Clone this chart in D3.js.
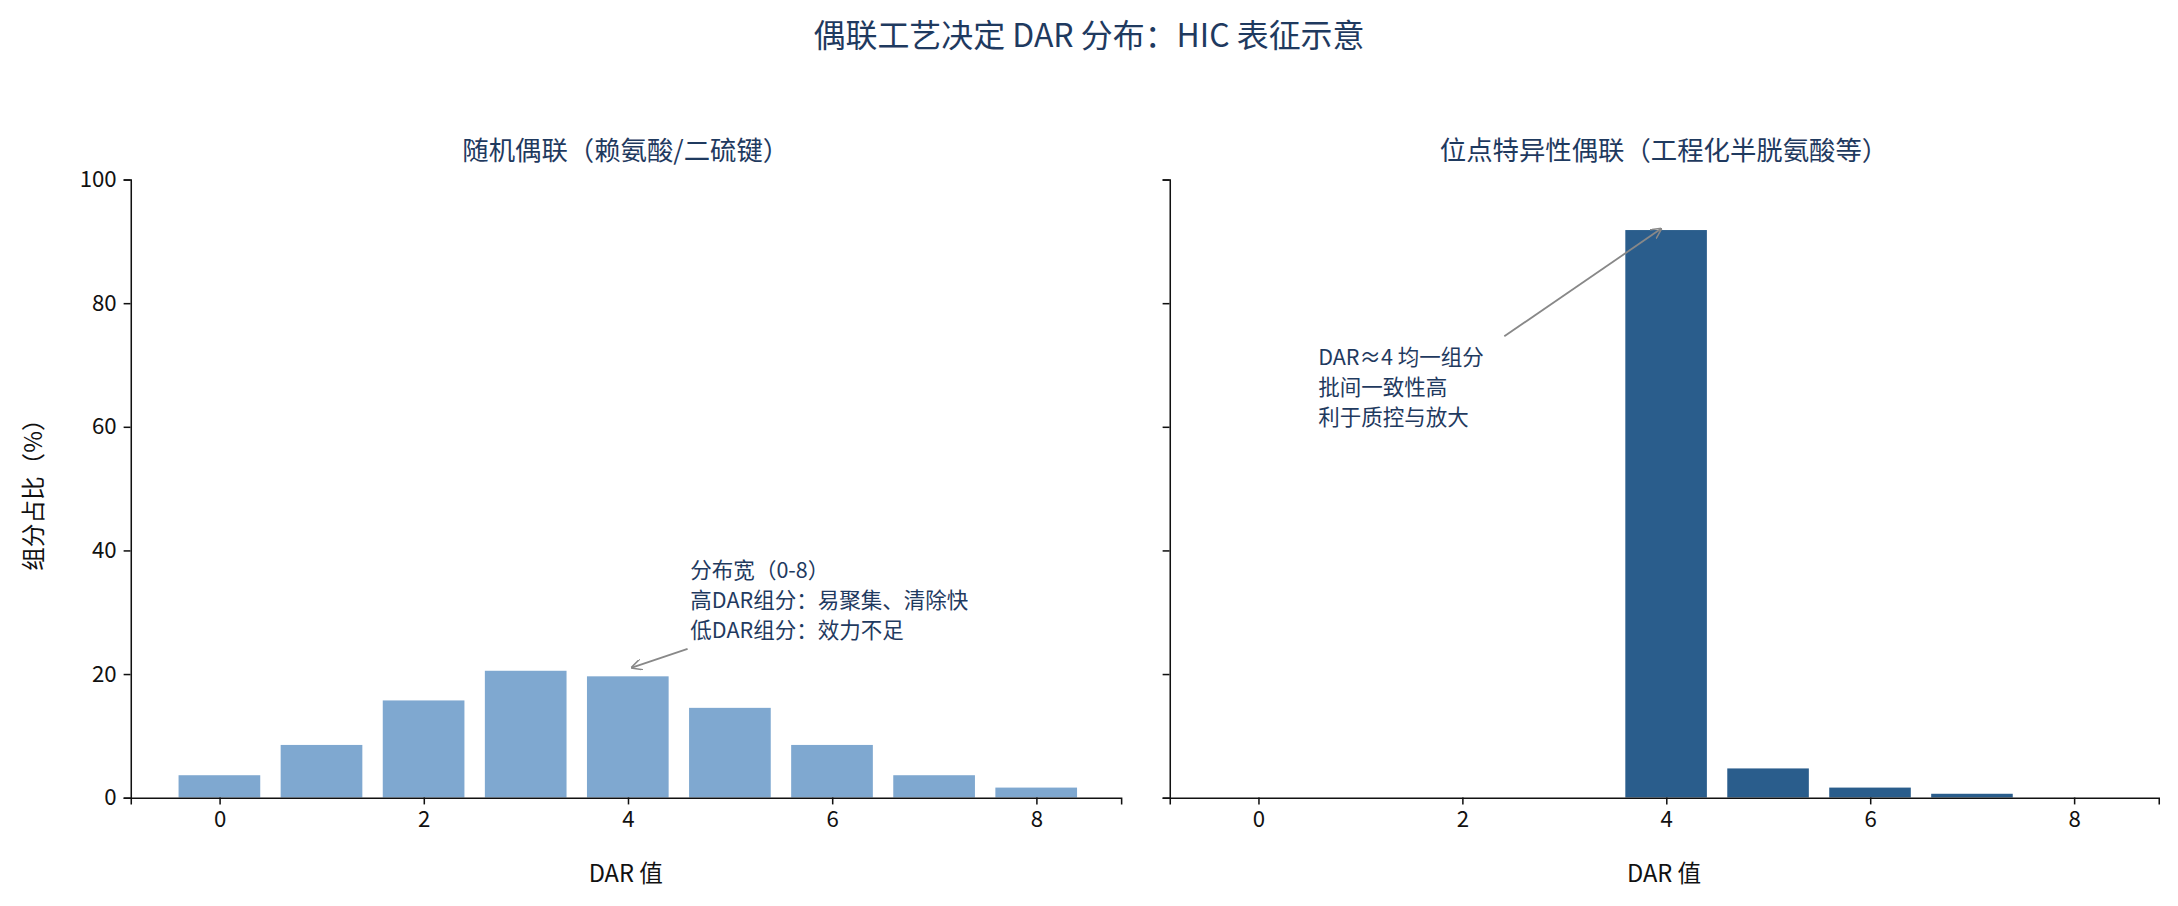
<!DOCTYPE html>
<html><head><meta charset="utf-8">
<script src="https://cdn.jsdelivr.net/npm/d3@7"></script>
<style>body{margin:0;background:#fff;font-family:"Noto Sans CJK SC","Noto Sans",sans-serif;}</style>
</head><body><svg id="c" width="2178" height="906" viewBox="0 0 1568 652"></svg>
<script>
const dar = [0, 1, 2, 3, 4, 5, 6, 7, 8];
const randomPct = [3.6, 8.5, 15.7, 20.5, 19.6, 14.5, 8.5, 3.6, 1.6];
const sitePct = [0, 0, 0, 0, 91.8, 4.7, 1.6, 0.6, 0];
const xTicks = [0, 2, 4, 6, 8];
const yTicks = [0, 20, 40, 60, 80, 100];

const svg = d3.select('#c');
const titleColor = '#1f3a5f';
const font = '"Noto Sans CJK SC","Noto Sans",sans-serif';

svg.append('text').attr('x', 784).attr('y', 34).attr('text-anchor', 'middle')
    .attr('font-size', 23).attr('fill', titleColor).text('偶联工艺决定 DAR 分布：HIC 表征示意');

const y = d3.scaleLinear().domain([0, 100]).range([574, 129]);

function panel(left, right, values, color, title, showY, note) {
    const x = d3.scaleLinear().domain([-0.87, 8.83]).range([left, right]);
    const g = svg.append('g');
    g.selectAll('rect').data(dar).join('rect')
        .attr('x', d => x(d - 0.4)).attr('width', x(0.8) - x(0))
        .attr('y', (d, i) => y(values[i])).attr('height', (d, i) => y(0) - y(values[i]))
        .attr('fill', color);
    const ax = g.append('g').attr('transform', 'translate(0,574)')
        .call(d3.axisBottom(x).tickValues(xTicks).tickSize(5).tickPadding(5));
    const ay = g.append('g').attr('transform', `translate(${left},0)`)
        .call(d3.axisLeft(y).tickValues(yTicks).tickSize(5).tickPadding(5).tickFormat(showY ? d3.format('d') : ''));
    [ax, ay].forEach(a => {
        a.selectAll('text').attr('font-size', 16).attr('font-family', font).attr('fill', '#111');
        a.selectAll('line,path').attr('stroke', '#111').attr('stroke-width', 1.1);
    });
    g.append('text').attr('x', (left + right) / 2).attr('y', 115).attr('text-anchor', 'middle')
        .attr('font-size', 19).attr('fill', titleColor).text(title);
    g.append('text').attr('x', (left + right) / 2).attr('y', 635).attr('text-anchor', 'middle')
        .attr('font-size', 17).attr('fill', '#111').text('DAR 值');
    const [tx, ty, ax0, ay0, hx, hy, lines] = note;
    g.append('line').attr('x1', ax0).attr('y1', ay0).attr('x2', x(hx)).attr('y2', y(hy))
        .attr('stroke', '#888').attr('stroke-width', 1.3).attr('marker-end', 'url(#arr)');
    const t = g.append('text').attr('font-size', 15.5).attr('fill', titleColor);
    lines.forEach((l, i) => t.append('tspan').attr('x', tx).attr('y', ty + i * 21.5).text(l));
}

svg.append('defs').append('marker').attr('id', 'arr').attr('viewBox', '0 0 10 10')
    .attr('refX', 9).attr('refY', 5).attr('markerWidth', 8).attr('markerHeight', 8)
    .attr('orient', 'auto-start-reverse').attr('markerUnits', 'userSpaceOnUse')
    .append('path').attr('d', 'M0,0 L10,5 L0,10').attr('fill', 'none').attr('stroke', '#888').attr('stroke-width', 1.4);

panel(94, 807, randomPct, '#7fa8d0', '随机偶联（赖氨酸/二硫键）', true,
    [497, 416, 495, 467, 4.04, 21, ['分布宽（0-8）', '高DAR组分：易聚集、清除快', '低DAR组分：效力不足']]);
panel(842, 1554, sitePct, '#2a5d8c', '位点特异性偶联（工程化半胱氨酸等）', false,
    [949, 263, 1083, 242, 3.95, 92, ['DAR≈4 均一组分', '批间一致性高', '利于质控与放大']]);

svg.append('text').attr('transform', 'translate(30,352) rotate(-90)').attr('text-anchor', 'middle')
    .attr('font-size', 17).attr('fill', '#111').text('组分占比（%）');
</script></body></html>
